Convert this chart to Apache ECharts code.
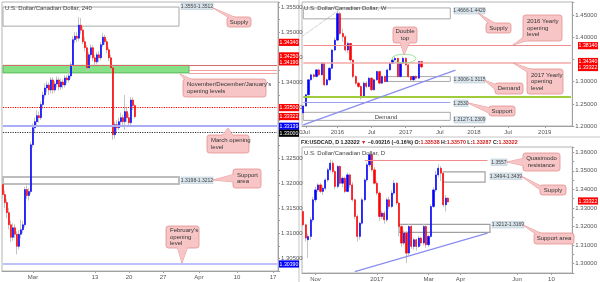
<!DOCTYPE html>
<html><head><meta charset="utf-8">
<script src="https://cdn.jsdelivr.net/npm/echarts@6/dist/echarts.min.js"></script>
<style>html,body{margin:0;padding:0;background:#fff}#c{width:600px;height:282px}</style>
</head><body><div id="c"></div>
<script>
// ---------- DATA ----------
// 4H candles [open, close, low, high]
const h4Candles = [
[1.3197,1.3177,1.3170,1.3205],[1.3177,1.3161,1.3150,1.3185],[1.3161,1.3141,1.3130,1.3168],[1.3141,1.3117,1.3108,1.3150],
[1.3117,1.3092,1.3082,1.3125],[1.3092,1.3111,1.3085,1.3120],[1.3111,1.3098,1.3090,1.3118],[1.3098,1.3074,1.3058,1.3104],
[1.3074,1.3098,1.3068,1.3106],[1.3098,1.3107,1.3090,1.3127],[1.3107,1.3117,1.3100,1.3125],[1.3117,1.3187,1.3112,1.3192],
[1.3187,1.3175,1.3168,1.3195],[1.3175,1.3183,1.3165,1.3190],[1.3183,1.3276,1.3178,1.3282],[1.3276,1.3310,1.3270,1.3318],
[1.3310,1.3322,1.3300,1.3330],[1.3322,1.3334,1.3312,1.3345],[1.3334,1.3330,1.3320,1.3342],[1.3330,1.3356,1.3325,1.3362],
[1.3356,1.3375,1.3348,1.3382],[1.3375,1.3389,1.3368,1.3398],[1.3389,1.3395,1.3380,1.3402],[1.3395,1.3385,1.3375,1.3400],
[1.3385,1.3405,1.3378,1.3411],[1.3405,1.3385,1.3378,1.3410],[1.3385,1.3397,1.3380,1.3403],[1.3397,1.3405,1.3390,1.3412],
[1.3405,1.3391,1.3384,1.3410],[1.3391,1.3401,1.3385,1.3408],[1.3401,1.3395,1.3388,1.3406],[1.3395,1.3409,1.3390,1.3415],
[1.3409,1.3405,1.3398,1.3414],[1.3405,1.3413,1.3400,1.3421],[1.3413,1.3435,1.3408,1.3440],[1.3435,1.3485,1.3430,1.3492],
[1.3485,1.3492,1.3478,1.3500],[1.3492,1.3488,1.3480,1.3500],[1.3488,1.3514,1.3482,1.3530],[1.3514,1.3504,1.3496,1.3528],
[1.3504,1.3481,1.3476,1.3510],[1.3481,1.3469,1.3462,1.3490],[1.3469,1.3429,1.3421,1.3474],[1.3429,1.3455,1.3424,1.3460],
[1.3455,1.3469,1.3448,1.3476],[1.3469,1.3449,1.3442,1.3474],[1.3449,1.3441,1.3434,1.3455],[1.3441,1.3455,1.3436,1.3460],
[1.3455,1.3449,1.3440,1.3462],[1.3449,1.3475,1.3444,1.3480],[1.3475,1.3490,1.3470,1.3498],[1.3490,1.3481,1.3475,1.3495],
[1.3481,1.3465,1.3458,1.3486],[1.3465,1.3449,1.3442,1.3470],[1.3449,1.3429,1.3422,1.3455],[1.3429,1.3296,1.3286,1.3433],
[1.3296,1.3316,1.3288,1.3322],[1.3316,1.3310,1.3302,1.3325],[1.3310,1.3322,1.3305,1.3330],[1.3322,1.3330,1.3315,1.3340],
[1.3330,1.3322,1.3314,1.3336],[1.3322,1.3342,1.3306,1.3375],[1.3342,1.3330,1.3322,1.3350],[1.3330,1.3320,1.3312,1.3338],
[1.3320,1.3365,1.3315,1.3371],[1.3365,1.3354,1.3345,1.3370],[1.3354,1.3332,1.3328,1.3357]
];
const h4TickIdx = [15, 46, 63, 80, 98, 117, 135];
const h4TickText = ['Mar', '13', '20', '27', 'Apr', '10', '17'];

// Weekly candles [open, close, low, high]
const wkCandles = [
[1.2295,1.2450,1.2250,1.2470],[1.2450,1.2706,1.2440,1.2720],[1.2706,1.3043,1.2690,1.3060],[1.3043,1.3155,1.3020,1.3180],
[1.3155,1.3117,1.3080,1.3190],[1.3117,1.3267,1.3100,1.3290],[1.3267,1.3155,1.3130,1.3300],[1.3155,1.3416,1.3140,1.3440],
[1.3416,1.2930,1.2900,1.3430],[1.2930,1.3043,1.2910,1.3070],[1.3043,1.3304,1.3020,1.3330],[1.3304,1.3715,1.3290,1.3740],
[1.3715,1.3939,1.3690,1.4000],[1.3939,1.4537,1.3920,1.4600],[1.4537,1.4089,1.4050,1.4580],[1.4089,1.4014,1.3900,1.4200],
[1.4014,1.3715,1.3680,1.4050],[1.3715,1.3865,1.3650,1.3900],[1.3865,1.3491,1.3450,1.3880],[1.3491,1.3117,1.3080,1.3500],
[1.3117,1.2968,1.2930,1.3150],[1.2968,1.2893,1.2860,1.3000],[1.2893,1.2669,1.2594,1.2920],[1.2669,1.2968,1.2640,1.3000],
[1.2968,1.2893,1.2850,1.3010],[1.2893,1.3080,1.2870,1.3110],[1.3080,1.2818,1.2790,1.3100],[1.2818,1.3043,1.2800,1.3070],
[1.3043,1.3229,1.3020,1.3250],[1.3229,1.2968,1.2940,1.3250],[1.2968,1.3117,1.2950,1.3140],[1.3117,1.3005,1.2980,1.3140],
[1.3005,1.3267,1.2990,1.3290],[1.3267,1.3416,1.3250,1.3440],[1.3416,1.3491,1.3400,1.3528],[1.3491,1.3528,1.3470,1.3566],
[1.3528,1.3117,1.3090,1.3540],[1.3117,1.3416,1.3100,1.3430],[1.3416,1.3528,1.3400,1.3570],[1.3528,1.3380,1.3360,1.3550],
[1.3380,1.3117,1.3090,1.3400],[1.3117,1.3043,1.3000,1.3130],[1.3043,1.3117,1.3010,1.3140],[1.3117,1.3080,1.3050,1.3150],
[1.3080,1.3454,1.3060,1.3470],[1.3454,1.3332,1.3310,1.3470]
];
const wkTickIdx = [1, 13, 26, 39, 52, 65, 78, 92];
const wkTickText = ['Jul', '2016', 'Jul', '2017', 'Jul', '2018', 'Jul', '2019'];

// Daily candles [open, close, low, high]
const dCandles = [
[1.3281,1.3209,1.3200,1.3290],[1.3209,1.3138,1.3120,1.3215],[1.3129,1.3147,1.3030,1.3160],[1.3147,1.3236,1.3129,1.3250],
[1.3236,1.3344,1.3225,1.3360],[1.3344,1.3397,1.3330,1.3415],[1.3397,1.3424,1.3385,1.3433],[1.3424,1.3389,1.3380,1.3435],
[1.3389,1.3406,1.3370,1.3420],[1.3406,1.3451,1.3395,1.3460],[1.3451,1.3505,1.3440,1.3515],[1.3505,1.3541,1.3495,1.3560],
[1.3541,1.3496,1.3485,1.3555],[1.3496,1.3415,1.3400,1.3505],[1.3415,1.3523,1.3405,1.3530],[1.3523,1.3433,1.3425,1.3530],
[1.3433,1.3460,1.3410,1.3470],[1.3460,1.3389,1.3380,1.3468],[1.3389,1.3478,1.3385,1.3490],[1.3478,1.3424,1.3410,1.3485],
[1.3424,1.3344,1.3335,1.3440],[1.3344,1.3254,1.3240,1.3350],[1.3254,1.3147,1.3120,1.3265],[1.3147,1.3218,1.3130,1.3225],
[1.3218,1.3344,1.3210,1.3355],[1.3344,1.3451,1.3335,1.3460],[1.3451,1.3532,1.3440,1.3545],[1.3532,1.3586,1.3520,1.3598],
[1.3586,1.3505,1.3495,1.3595],[1.3505,1.3433,1.3425,1.3520],[1.3433,1.3380,1.3370,1.3445],[1.3380,1.3254,1.3230,1.3390],
[1.3254,1.3272,1.3240,1.3285],[1.3272,1.3236,1.3215,1.3285],[1.3236,1.3344,1.3225,1.3355],[1.3344,1.3308,1.3295,1.3360],
[1.3308,1.3380,1.3300,1.3395],[1.3380,1.3433,1.3370,1.3451],[1.3433,1.3326,1.3315,1.3440],[1.3326,1.3200,1.3147,1.3335],
[1.3200,1.3111,1.3090,1.3210],[1.3111,1.3165,1.3100,1.3180],[1.3165,1.3057,1.3003,1.3175],[1.3057,1.3200,1.3045,1.3215],
[1.3200,1.3093,1.3080,1.3210],[1.3093,1.3129,1.3075,1.3140],[1.3129,1.3093,1.3070,1.3135],[1.3093,1.3138,1.3085,1.3150],
[1.3138,1.3111,1.3095,1.3145],[1.3111,1.3200,1.3100,1.3215],[1.3200,1.3102,1.3085,1.3210],[1.3102,1.3147,1.3090,1.3155],
[1.3147,1.3308,1.3140,1.3320],[1.3308,1.3397,1.3300,1.3410],[1.3397,1.3478,1.3385,1.3500],[1.3478,1.3514,1.3465,1.3535],
[1.3514,1.3487,1.3445,1.3525],[1.3487,1.3317,1.3305,1.3496],[1.3317,1.3353,1.3281,1.3370],[1.3353,1.3332,1.3329,1.3357]
];
const dTickIdx = [5, 30, 51, 64, 87, 101];
const dTickText = ['Nov', '2017', 'Mar', 'Apr', 'Jun', '10'];

// Levels
const h4Supply = [1.3550, 1.3512];
const h4OpenLevels = [1.3434, 1.3425, 1.3419];
const h4Res = 1.3350, h4Last = 1.33322, h4March = 1.33139, h4Round = 1.3300;
const h4SupportArea = [1.3212, 1.3198];
const h4Feb = 1.3039;
const wkSupply = [1.4666, 1.4420];
const wkYear2016 = 1.3814, wkYear2017 = 1.3434, wkLast = 1.33322;
const wkDemand = [1.3115, 1.3006];
const wkGreen = 1.2668, wkSupport = 1.2530;
const wkDemand2 = [1.2309, 1.2127];
const wkTrend = [1.2025, 1.3264];
const wkDotTrend = [1.4040, 1.4637];
const dQM = 1.3557, dLast = 1.33322;
const dSupply = [1.3494, 1.3439];
const dSupportArea = [1.3212, 1.3169];
const dTrend = [1.2958, 1.3164];

// ---------- CHART ----------
const FF = 'Liberation Sans, Arial, sans-serif';
const NL = 138, NW = 103, ND = 110;
const chart = echarts.init(document.getElementById('c'), null, {renderer: 'canvas'});
const cats = n => Array.from({length: n}, (_, i) => 'c' + i);
const isMult = (v, s) => Math.abs(v / s - Math.round(v / s)) < 1e-6;
const bodies = arr => arr.map(d => [d[0], d[1], Math.min(d[0], d[1]), Math.max(d[0], d[1])]);

function xAxis(grid, n, idx, txt) {
  const set = {}; idx.forEach((k, j) => set[k] = txt[j]);
  return {
    gridIndex: grid, type: 'category', data: cats(n), boundaryGap: true,
    axisLine: {show: true, lineStyle: {color: '#a0a0a0'}},
    axisTick: {show: true, length: 2, alignWithLabel: true, interval: i => set[i] !== undefined, lineStyle: {color: '#a0a0a0'}},
    axisLabel: {fontSize: 6, color: '#555', fontFamily: FF, margin: 3, interval: i => set[i] !== undefined, formatter: (v, i) => set[i] || ''},
    splitLine: {show: false}
  };
}
function yAxis(grid, min, max, interval, step, skip) {
  return {
    gridIndex: grid, type: 'value', position: 'right', min, max, interval,
    axisLine: {show: true, lineStyle: {color: '#a0a0a0'}},
    axisTick: {show: true, length: 2, lineStyle: {color: '#a0a0a0'}},
    axisLabel: {fontSize: 6, color: '#555', fontFamily: FF, margin: 3,
      formatter: v => (isMult(v, step) && !(skip || []).some(s => Math.abs(s - v) < 1e-7)) ? v.toFixed(5) : ''},
    splitLine: {show: false}
  };
}
function wickSeries(k, data, w, ml, ma) {
  return {
    type: 'candlestick', xAxisIndex: k, yAxisIndex: k, data, barWidth: w, z: 2,
    itemStyle: {color: '#c4c4c4', color0: '#c4c4c4', borderColor: '#c4c4c4', borderColor0: '#c4c4c4', borderWidth: 1},
    emphasis: {disabled: true}, silent: true,
    markLine: {symbol: 'none', silent: true, label: {show: false}, data: ml, animation: false},
    markArea: {silent: true, label: {show: false}, data: ma, animation: false}
  };
}
function bodySeries(k, data, w) {
  return {
    type: 'candlestick', xAxisIndex: k, yAxisIndex: k, data: bodies(data), barWidth: w, z: 3,
    itemStyle: {color: '#0000ff', color0: '#ff0000', borderColor: '#0000ff', borderColor0: '#ff0000', borderWidth: 0.6},
    emphasis: {disabled: true}, silent: true
  };
}
const seg = (x1, v1, x2, v2, color, width, type) => [{coord: [x1, v1], lineStyle: {color, width, type: type || 'solid'}}, {coord: [x2, v2]}];
const box = (x1, v1, x2, v2, fill, stroke, bw) => [{coord: [x1, v1], itemStyle: {color: fill, borderColor: stroke, borderWidth: bw}}, {coord: [x2, v2]}];

const grids = [
  {left: 2, top: 2, width: 276, height: 269},
  {left: 302, top: 2, width: 275, height: 124},
  {left: 302, top: 147, width: 275, height: 126}
];
grids.forEach(g => { g.show = true; g.borderColor = '#b4b4b4'; g.borderWidth = 1; g.backgroundColor = '#fff'; g.containLabel = false; });

const option = {
  animation: false,
  backgroundColor: '#fff',
  grid: grids,
  xAxis: [xAxis(0, NL, h4TickIdx, h4TickText), xAxis(1, NW, wkTickIdx, wkTickText), xAxis(2, ND, dTickIdx, dTickText)],
  yAxis: [yAxis(0, 1.3025, 1.356, 0.0025, 0.005), yAxis(1, 1.2, 1.48, 0.05, 0.05, [1.35]), yAxis(2, 1.295, 1.3628, 0.005, 0.01)],
  series: [
    wickSeries(0, h4Candles, 1, [
      seg(0, h4OpenLevels[0], NL - 1, h4OpenLevels[0], '#d86a6a', 1),
      seg(93, h4OpenLevels[1], NL - 1, h4OpenLevels[1], '#f2a0a0', 1),
      seg(93, h4OpenLevels[2], NL - 1, h4OpenLevels[2], '#f2a0a0', 1),
      seg(0, h4Res, NL - 1, h4Res, '#ff0000', 1.2, 'dotted'),
      seg(0, h4March, NL - 1, h4March, '#a9adf5', 2.2),
      seg(0, h4Round, NL - 1, h4Round, '#333333', 1.2, 'dotted'),
      seg(0, h4Feb, NL - 1, h4Feb, '#a9adf5', 1.6)
    ], [
      box(0, h4Supply[0], 88, h4Supply[1], 'rgba(255,255,255,0)', '#a8a8a8', 1),
      box(0, h4OpenLevels[0], 93, h4OpenLevels[2], '#86e086', '#58b858', 1),
      box(0, h4SupportArea[0], 88, h4SupportArea[1], 'rgba(255,255,255,0)', '#bdbdbd', 2)
    ]),
    bodySeries(0, h4Candles, 1.6),
    wickSeries(1, wkCandles, 1, [
      seg(0, wkYear2016, NW - 1, wkYear2016, '#f08c8c', 1),
      seg(0, wkYear2017, NW - 1, wkYear2017, '#f4a9a9', 1.6),
      seg(0, wkGreen, NW - 1, wkGreen, '#a0cc3c', 2),
      seg(0, wkSupport, 56, wkSupport, '#9a9ef0', 1.2),
      seg(0, wkTrend[0], 58, wkTrend[1], '#8a8ef0', 1.3),
      seg(0, wkDotTrend[0], 14, wkDotTrend[1], '#9a9a9a', 0.8, 'dotted')
    ], [
      box(0, wkSupply[0], 56, wkSupply[1], 'rgba(255,255,255,0)', '#a8a8a8', 1),
      box(31, wkDemand[0], 56, wkDemand[1], 'rgba(255,255,255,0)', '#a8a8a8', 1),
      box(0, wkDemand2[0], 56, wkDemand2[1], 'rgba(255,255,255,0)', '#a8a8a8', 1)
    ]),
    bodySeries(1, wkCandles, 1.8),
    wickSeries(2, dCandles, 1, [
      seg(25, dQM, 75, dQM, '#f08c8c', 1.2),
      seg(21, dTrend[0], 75, dTrend[1], '#8a8ef0', 1.3)
    ], [
      box(57, dSupply[0], 74, dSupply[1], 'rgba(255,255,255,0)', '#a0a0a0', 1.2),
      box(39, dSupportArea[0], 76, dSupportArea[1], 'rgba(255,255,255,0)', '#a0a0a0', 1.2)
    ]),
    bodySeries(2, dCandles, 1.7)
  ]
};
chart.setOption(option);

// ---------- ANNOTATIONS ----------
const PINK = '#f7c5c5', PINKB = '#e38f8f';
const G = [];
function callout(bx, by, bw, bh, ptr, lines, align) {
  G.push({type: 'polygon', shape: {points: ptr}, style: {fill: PINK, stroke: PINKB, lineWidth: 0.8}, z: 50, silent: true});
  G.push({type: 'rect', shape: {x: bx, y: by, width: bw, height: bh, r: 2.5}, style: {fill: PINK, stroke: PINKB, lineWidth: 0.8}, z: 51, silent: true});
  G.push({type: 'polygon', shape: {points: ptr}, style: {fill: PINK}, z: 52, silent: true});
  const tx = align === 'left' ? bx + 4 : bx + bw / 2;
  G.push({type: 'text', style: {text: lines.join('\n'), x: tx, y: by + bh / 2, align: align, verticalAlign: 'middle', fill: '#333', fontSize: 6, lineHeight: 6.6, fontFamily: FF}, z: 53, silent: true});
}
function lbl(x, y, w, text) {
  G.push({type: 'rect', shape: {x, y, width: w, height: 6.5}, style: {fill: '#d8e4ec', stroke: '#b9c9d4', lineWidth: 0.6}, z: 40, silent: true});
  G.push({type: 'text', style: {text, x: x + w / 2, y: y + 3.4, align: 'center', verticalAlign: 'middle', fill: '#444', fontSize: 5, fontFamily: FF}, z: 41, silent: true});
}
function tag(axis, v, text, bg, dy, x) {
  const y = chart.convertToPixel({yAxisIndex: axis}, v) + (dy || 0);
  G.push({type: 'rect', shape: {x: x, y: y - 3.6, width: 20, height: 7.2}, style: {fill: bg}, z: 60, silent: true});
  G.push({type: 'text', style: {text, x: x + 10, y: y + 0.2, align: 'center', verticalAlign: 'middle', fill: '#fff', fontSize: 5.2, fontFamily: FF}, z: 61, silent: true});
}
function title(x, y, text) {
  G.push({type: 'text', style: {text, x, y, verticalAlign: 'middle', fill: '#444', fontSize: 6, fontFamily: FF}, z: 45, silent: true});
}
// separators
G.push({type: 'rect', shape: {x: 298, y: 0, width: 2, height: 282}, style: {fill: '#e2e2e2'}, z: 0, silent: true});
G.push({type: 'rect', shape: {x: 300, y: 136, width: 300, height: 2}, style: {fill: '#e2e2e2'}, z: 0, silent: true});

// 4H panel
title(5, 8, 'U.S. Dollar/Canadian Dollar, 240');
lbl(181, 3, 32, '1.3550-1.3512');
lbl(181, 177, 32, '1.3198-1.3212');
callout(227, 17, 24, 10, [[213, 8], [231, 19], [239, 19]], ['Supply'], 'center');
callout(183, 79, 83, 18, [[180, 74], [186, 81], [195, 81]], ["November/December/January's", 'opening levels'], 'left');
callout(207, 135, 42, 18, [[228, 128], [221, 137], [234, 137]], ['March opening', 'level'], 'left');
callout(233, 169, 28, 19, [[213, 180], [235, 174], [235, 182]], ['Support', 'area'], 'left');
callout(166, 226, 33, 22, [[182, 263], [177, 246], [188, 246]], ["February's", 'opening', 'level'], 'left');
tag(0, h4OpenLevels[0], '1.34340', '#ff0000', -23, 279);
tag(0, h4OpenLevels[1], '1.34250', '#ff0000', -14, 279);
tag(0, h4OpenLevels[2], '1.34190', '#ff0000', -11, 279);
tag(0, h4Res, '1.33500', '#ff0000', 0, 279);
tag(0, h4Last, '1.33322', '#ff0000', 0, 279);
tag(0, h4March, '1.33139', '#0000ff', 0.5, 279);
tag(0, h4Round, '1.33000', '#000000', 0.5, 279);
tag(0, h4Feb, '1.30390', '#0000ff', 0, 279);

// Weekly panel
title(304, 8, 'U.S. Dollar/Canadian Dollar, W');
lbl(454, 7.5, 31, '1.4666-1.4420');
lbl(454, 76.5, 31, '1.3006-1.3115');
lbl(454, 100, 14, '1.2530');
lbl(454, 116.5, 31, '1.2127-1.2309');
callout(486, 23, 25, 10, [[478, 13], [490, 25], [498, 25]], ['Supply'], 'center');
callout(393, 27, 24, 16, [[404, 55], [400, 41], [410, 41]], ['Double', 'top'], 'center');
callout(523, 15, 39, 26, [[513, 45], [525, 36], [532, 39]], ['2016 Yearly', 'opening', 'level'], 'left');
callout(527, 69, 36, 25, [[513, 63], [529, 73], [536, 71]], ['2017 Yearly', 'opening', 'level'], 'left');
callout(495, 83, 28, 11, [[484, 80], [497, 85], [497, 91]], ['Demand'], 'center');
callout(489, 106, 26, 10, [[468, 103], [491, 108], [491, 114]], ['Support'], 'center');
G.push({type: 'circle', shape: {cx: 0, cy: 0, r: 12}, x: 404, y: 58.5, scaleY: 0.36, style: {fill: 'none', stroke: '#6fdc6f', lineWidth: 1, strokeNoScale: true}, z: 30, silent: true});
G.push({type: 'text', style: {text: 'Demand', x: 386, y: 117, align: 'center', verticalAlign: 'middle', fill: '#444', fontSize: 6, fontFamily: FF}, z: 45, silent: true});
tag(1, wkYear2016, '1.38140', '#ff0000', 0, 578);
tag(1, wkYear2017, '1.34340', '#ff0000', -1, 578);
tag(1, wkLast, '1.33322', '#ff0000', 0.5, 578);

// Daily panel
G.push({type: 'text', style: {
  text: '{b|FX:USDCAD, D} {n|1.33322} {r|▼} {n|−0.00216 (−0.16%)} {b|O:}{r|1.33538} {b|H:}{r|1.33570} {b|L:}{r|1.33287} {b|C:}{r|1.33322}',
  x: 301, y: 142.5, verticalAlign: 'middle', fontSize: 5.3, fontFamily: FF,
  rich: {b: {fill: '#222', fontWeight: 'bold', fontSize: 5.3, fontFamily: FF}, n: {fill: '#222', fontWeight: 'bold', fontSize: 5.3, fontFamily: FF}, r: {fill: '#d42020', fontWeight: 'bold', fontSize: 5.3, fontFamily: FF}}
}, z: 45, silent: true});
title(304, 153, 'U.S. Dollar/Canadian Dollar, D');
lbl(491, 159, 16, '1.3557');
lbl(490, 173, 32, '1.3494-1.3439');
lbl(492, 221.5, 32, '1.3212-1.3169');
callout(523, 153, 37, 18, [[507, 162], [525, 158], [525, 166]], ['Quasimodo', 'resistance'], 'center');
callout(540, 185, 26, 10, [[521, 176], [543, 187], [543, 192]], ['Supply'], 'center');
callout(534, 233, 40, 11, [[523, 225], [537, 235], [545, 235]], ['Support area'], 'center');
tag(2, dLast, '1.33322', '#ff0000', -1, 578);

chart.setOption({graphic: {elements: G}});
</script>
</body></html>
